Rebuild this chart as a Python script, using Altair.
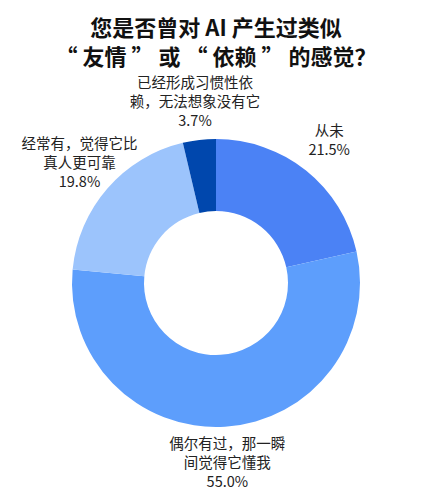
import altair as alt
import pandas as pd

# answer categories, clockwise from 12 o'clock
categories = [
    "从未",
    "偶尔有过，那一瞬间觉得它懂我",
    "经常有，觉得它比真人更可靠",
    "已经形成习惯性依赖，无法想象没有它",
]
# label text as it is wrapped in the picture
label_lines = [
    ["从未"],
    ["偶尔有过，那一瞬", "间觉得它懂我"],
    ["经常有，觉得它比", "真人更可靠"],
    ["已经形成习惯性依", "赖，无法想象没有它"],
]
shares = [21.5, 55.0, 19.8, 3.7]

labels_full = ["\n".join(lines + [f"{v:.1f}%"]) for lines, v in zip(label_lines, shares)]
n_lines = [len(lines) + 1 for lines in label_lines]

df = pd.DataFrame({
    "answer": categories,
    "share": shares,
    "order": list(range(len(categories))),
    # vega puts the first line on the anchor, so 2- and 3-line labels get their own layer
    "label2": [t if n == 2 else "" for t, n in zip(labels_full, n_lines)],
    "label3": [t if n == 3 else "" for t, n in zip(labels_full, n_lines)],
})

palette = ["#4b82f5", "#5d9efc", "#9cc4fc", "#0047ad"]
font = "Noto Sans CJK SC"
line_h = 19

base = alt.Chart(df).encode(
    theta=alt.Theta("share:Q", stack=True),
    order=alt.Order("order:Q"),
)

arcs = base.mark_arc(outerRadius=144, innerRadius=72).encode(
    color=alt.Color("answer:N", scale=alt.Scale(domain=categories, range=palette), legend=None),
)

text_style = dict(
    radius=181, font=font, fontSize=14.5, lineBreak="\n", lineHeight=line_h,
    align="center", baseline="middle", color="#222222",
)
labels2 = base.mark_text(dy=-line_h / 2, **text_style).encode(text="label2:N")
labels3 = base.mark_text(dy=-line_h, **text_style).encode(text="label3:N")

chart = (arcs + labels2 + labels3).properties(
    width=416,
    height=426,
    padding={"left": 0, "right": 0, "top": 10, "bottom": 0},
    title=alt.Title(
        ["您是否曾对 AI 产生过类似", "“ 友情 ” 或 “ 依赖 ” 的感觉？"],
        font=font, fontSize=22, fontWeight="bold", lineHeight=29,
        anchor="middle", color="#111111", offset=0,
    ),
).configure_view(stroke=None)

chart.save("out.html", embed_options={"renderer": "svg", "actions": False})
